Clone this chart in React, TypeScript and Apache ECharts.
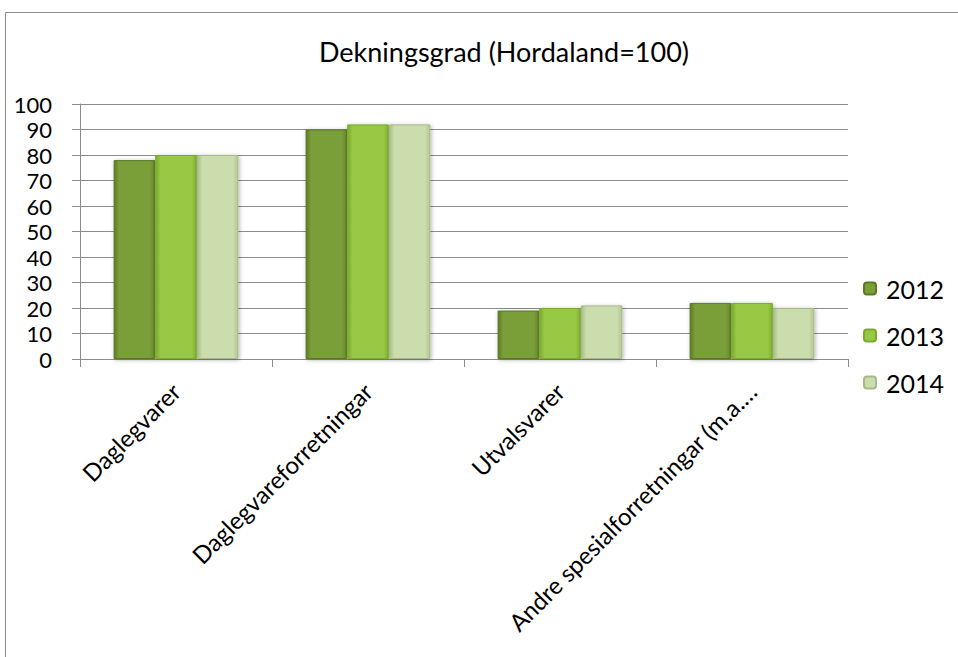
import React, { useEffect, useRef } from "react";
import * as echarts from "echarts";

const categories = ["Daglegvarer", "Daglegvareforretningar", "Utvalsvarer", "Andre spesialforretningar (m.a.…"];
const years = ["2012", "2013", "2014"];
const values2012 = [78, 90, 19, 22];
const values2013 = [80, 92, 20, 22];
const values2014 = [80, 92, 21, 20];
const yTicks = { min: 0, max: 100, interval: 10 };

const palettes = [
  ["#5a7a26", "#7a9e38", "#66872d"],
  ["#7aab2a", "#98c944", "#84b533"],
  ["#a6ba87", "#cbdcad", "#b3c695"],
];

function grad(p: string[]) {
  return new echarts.graphic.LinearGradient(0, 0, 1, 0, [
    { offset: 0, color: p[0] },
    { offset: 0.12, color: p[1] },
    { offset: 0.88, color: p[1] },
    { offset: 1, color: p[2] },
  ]);
}

export default function App() {
  const ref = useRef<HTMLDivElement>(null);
  useEffect(() => {
    const chart = echarts.init(ref.current!, undefined, { renderer: "svg" });
    const seriesData = [values2012, values2013, values2014];
    chart.setOption({
      animation: false,
      textStyle: { fontFamily: "Lato, 'Open Sans', sans-serif" },
      title: {
        text: "Dekningsgrad (Hordaland=100)",
        left: 499,
        textAlign: "center",
        top: 33,
        textStyle: { fontSize: 27, fontWeight: "normal", color: "#000", fontFamily: "Lato" },
      },
      graphic: [
        {
          type: "rect",
          shape: { x: 5.5, y: 12.5, width: 1000, height: 700 },
          style: { fill: "none", stroke: "#8c8c8c", lineWidth: 1 },
          silent: true,
        },
      ],
      legend: {
        orient: "vertical",
        left: 858,
        top: 271,
        itemGap: 22,
        itemWidth: 12,
        itemHeight: 12,
        textStyle: { fontSize: 25, color: "#000", fontFamily: "Lato", padding: [0, 0, 0, 5] },
        data: years,
      },
      grid: { left: 80, right: 110, top: 104, bottom: 298, containLabel: false },
      xAxis: {
        type: "category",
        data: categories,
        axisLine: { lineStyle: { color: "#8c8c8c", width: 1 } },
        axisTick: { show: true, length: 8, lineStyle: { color: "#8c8c8c" } },
        axisLabel: { rotate: 45, fontSize: 24, color: "#000", margin: 28, interval: 0 },
      },
      yAxis: {
        type: "value",
        min: yTicks.min,
        max: yTicks.max,
        interval: yTicks.interval,
        axisLine: { show: true, lineStyle: { color: "#8c8c8c", width: 1 } },
        axisTick: { show: true, length: 8, lineStyle: { color: "#8c8c8c" } },
        splitLine: { lineStyle: { color: "#8c8c8c", width: 1 } },
        axisLabel: { fontSize: 22, color: "#000", margin: 28 },
      },
      series: years.map((y, i) => ({
        name: y,
        type: "bar",
        data: seriesData[i],
        barGap: "0%",
        barCategoryGap: "35%",
        itemStyle: {
          color: grad(palettes[i]),
          borderColor: palettes[i][0],
          borderWidth: 1,
          shadowColor: "rgba(0,0,0,0.3)",
          shadowBlur: 4,
          shadowOffsetX: 1,
          shadowOffsetY: 1,
        },
      })),
    });
    return () => chart.dispose();
  }, []);
  return <div ref={ref} style={{ width: 958, height: 657, position: "absolute", left: 0, top: 0 }} />;
}
